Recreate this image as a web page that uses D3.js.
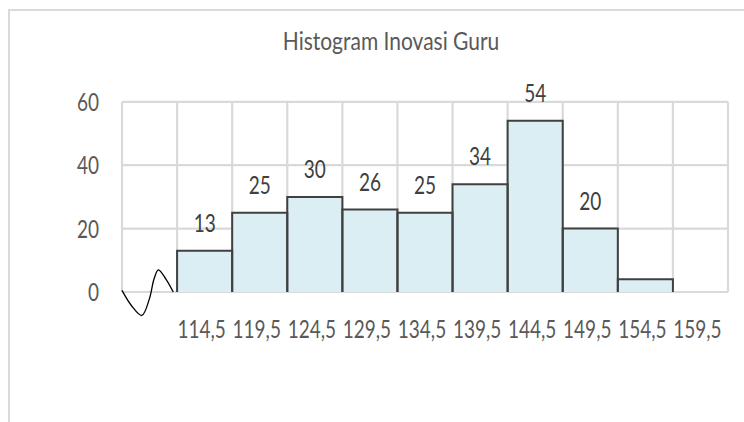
<!DOCTYPE html>
<html>
<head>
<meta charset="utf-8">
<script src="https://cdn.jsdelivr.net/npm/d3@7"></script>
<style>
  body { margin: 0; background: #fff; }
  text { font-family: Lato, "Open Sans", sans-serif; }
</style>
</head>
<body>
<svg width="744" height="422"></svg>
<script>
const title = "Histogram Inovasi Guru";
const categories = ["", "114,5", "119,5", "124,5", "129,5", "134,5", "139,5", "144,5", "149,5", "154,5", "159,5"];
const counts = [0, 13, 25, 30, 26, 25, 34, 54, 20, 4, 0];
const dataLabels = ["", "13", "25", "30", "26", "25", "34", "54", "20", "", ""];
const yTicks = [0, 20, 40, 60];
// axis break squiggle: [fraction of first band, value]
const breakMark = [[0, 0.5], [0.18, -4.5], [0.36, -7.4], [0.5, -2], [0.58, 4], [0.66, 7], [0.8, 4], [0.93, 0]];

const svg = d3.select("svg");

const x = d3.scaleBand().domain(categories.map((c, i) => i)).range([122, 728]).padding(0);
const y = d3.scaleLinear().domain([0, 60]).range([292, 101.8]);

const stretch = 1.3; // picture is taller than the font

function label(sel, px, py, k) {
  return sel.attr("transform", (d, i) => `translate(${px(d, i)},${py(d, i)}) scale(1,${k})`);
}

// chart frame
svg.append("path")
  .attr("d", "M9,422V10H744")
  .attr("fill", "none")
  .attr("stroke", "#d9d9d9")
  .attr("stroke-width", 2);

svg.append("text")
  .attr("transform", "translate(391,50) scale(1,1.15)")
  .attr("text-anchor", "middle")
  .attr("font-size", 21)
  .attr("fill", "#595959")
  .text(title);

// gridlines
const grid = svg.append("g").attr("stroke", "#d9d9d9").attr("stroke-width", 2.2);
grid.selectAll(".h").data(yTicks).enter().append("line")
  .attr("x1", x.range()[0]).attr("x2", x.range()[1])
  .attr("y1", d => y(d)).attr("y2", d => y(d));
grid.selectAll(".v").data(d3.range(categories.length + 1)).enter().append("line")
  .attr("x1", i => x.range()[0] + i * x.bandwidth())
  .attr("x2", i => x.range()[0] + i * x.bandwidth())
  .attr("y1", y(60)).attr("y2", y(0));

// y tick labels
svg.selectAll(".ytick").data(yTicks).enter().append("text")
  .call(label, () => 99, d => y(d) + 9, stretch)
  .attr("text-anchor", "end")
  .attr("font-size", 19)
  .attr("fill", "#595959")
  .text(d => d);

// bars
const bars = svg.append("g");
const idx = counts.map((v, i) => i).filter(i => counts[i] > 0);
bars.selectAll("rect").data(idx).enter().append("rect")
  .attr("x", i => x(i))
  .attr("y", i => y(counts[i]))
  .attr("width", x.bandwidth())
  .attr("height", i => y(0) - y(counts[i]))
  .attr("fill", "#daeef3");
bars.selectAll("path").data(idx).enter().append("path")
  .attr("d", i => `M${x(i)},${y(0)}V${y(counts[i])}H${x(i) + x.bandwidth()}V${y(0)}`)
  .attr("fill", "none")
  .attr("stroke", "#404040")
  .attr("stroke-width", 2);

// data labels
svg.selectAll(".dlabel").data(idx.filter(i => dataLabels[i])).enter().append("text")
  .call(label, i => x(i) + x.bandwidth() / 2, i => y(counts[i]) - 19, stretch)
  .attr("text-anchor", "middle")
  .attr("font-size", 19)
  .attr("fill", "#404040")
  .text(i => dataLabels[i]);

// x labels
svg.selectAll(".xlabel").data(categories).enter().append("text")
  .call(label, (d, i) => x(i) + x.bandwidth() / 2 - 3, () => 338, stretch)
  .attr("text-anchor", "middle")
  .attr("font-size", 19)
  .attr("fill", "#595959")
  .text(d => d);

// axis break mark
const line = d3.line()
  .x(d => x(0) + d[0] * x.bandwidth())
  .y(d => y(d[1]))
  .curve(d3.curveCatmullRom);
svg.append("path")
  .attr("d", line(breakMark))
  .attr("fill", "none")
  .attr("stroke", "#000")
  .attr("stroke-width", 1.3);
</script>
</body>
</html>
